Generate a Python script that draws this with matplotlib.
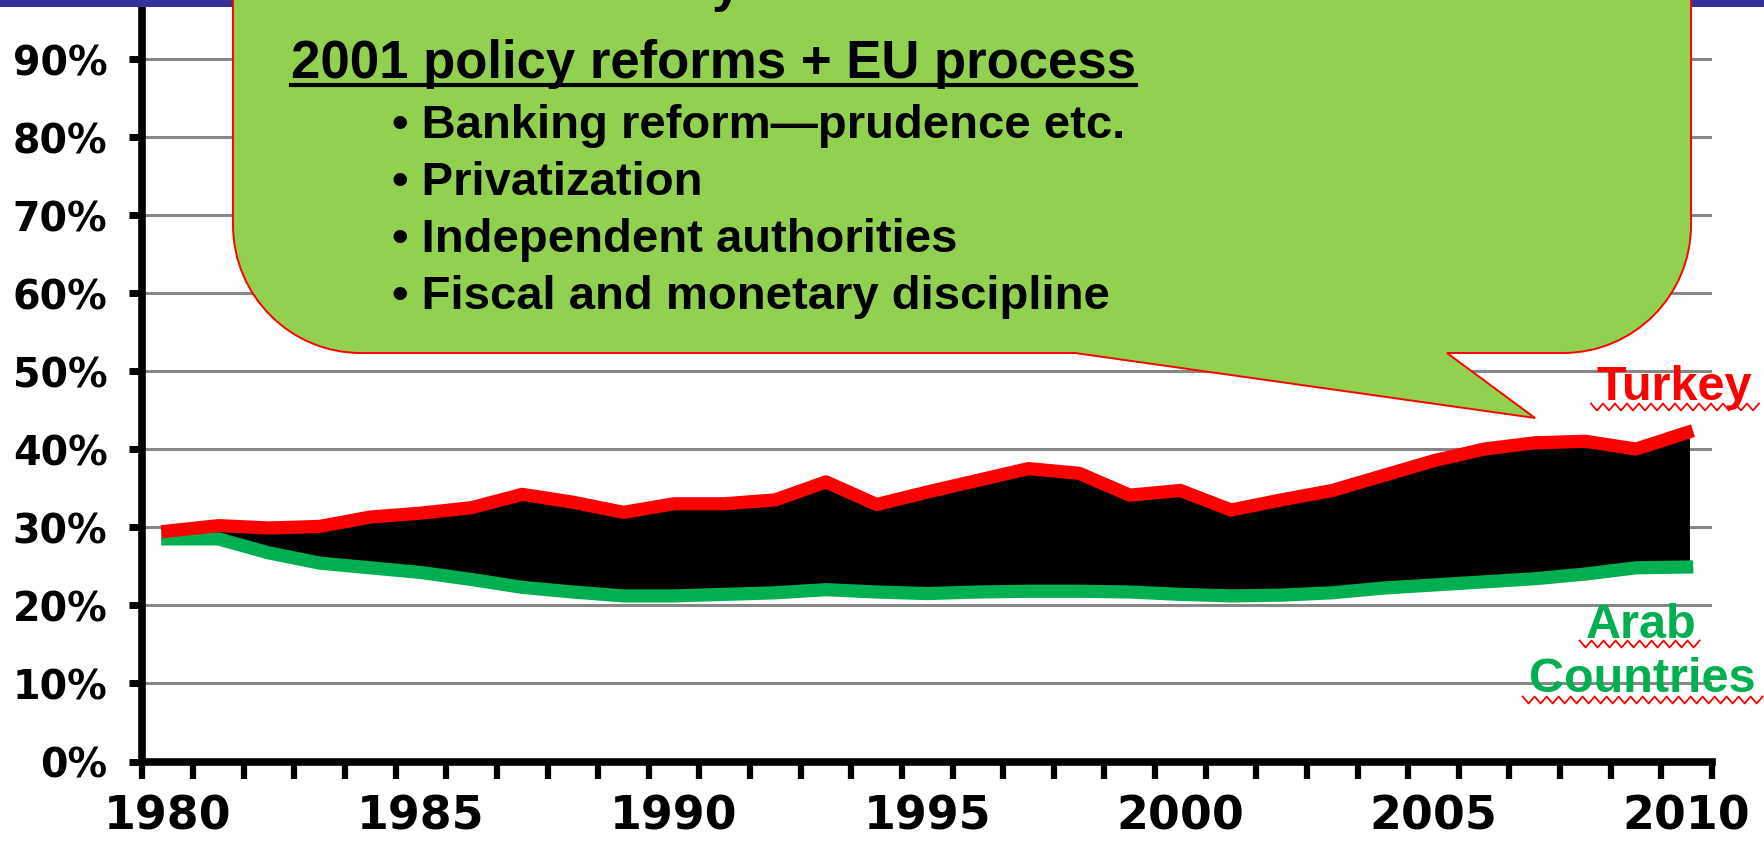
import numpy as np
import matplotlib
matplotlib.use('Agg')
import matplotlib.pyplot as plt
from matplotlib.path import Path
from matplotlib.patches import PathPatch, Rectangle
from matplotlib.lines import Line2D

# ---------------------------------------------------------
# Data (percent)
# ---------------------------------------------------------
years = np.arange(1980, 2011)
turkey = [29.5, 30.2, 29.9, 30.1, 31.3, 31.8, 32.5, 34.2, 33.2, 31.9,
          33.0, 33.0, 33.5, 35.8, 32.9, 34.5, 36.0, 37.5, 36.9, 34.1,
          34.7, 32.2, 33.5, 34.7, 36.6, 38.5, 40.0, 40.8, 41.0, 40.0,
          42.1]
arab = [28.5, 28.5, 26.7, 25.4, 24.8, 24.2, 23.3, 22.3, 21.7, 21.2,
        21.2, 21.4, 21.6, 22.0, 21.7, 21.5, 21.7, 21.8, 21.8, 21.7,
        21.4, 21.2, 21.3, 21.6, 22.2, 22.6, 23.0, 23.4, 24.0, 24.8,
        24.9]
y_ticks = [0, 10, 20, 30, 40, 50, 60, 70, 80, 90]
y_tick_labels = [f'{v}%' for v in y_ticks]
x_label_years = [1980, 1985, 1990, 1995, 2000, 2005, 2010]

callout_title = '2001 policy reforms + EU process'
callout_bullets = ['\u2022 Banking reform\u2014prudence etc.',
                   '\u2022 Privatization',
                   '\u2022 Independent authorities',
                   '\u2022 Fiscal and monetary discipline']

RED = '#FF0000'
GREEN = '#00B050'
CALLOUT_GREEN = '#92D050'
W, H = 1765, 845


def fx(px):
    return px / W


def fy(py):
    # pixel rows counted from the top
    return 1 - py / H


fig = plt.figure(figsize=(W / 100, H / 100), dpi=100)
fig.patch.set_facecolor('white')

# ---------------------------------------------------------
# Main axes
# ---------------------------------------------------------
ax = fig.add_axes([fx(142.5), fy(762.5), fx(1712) - fx(142.5), fy(8) - fy(762.5)])
ax.set_xlim(1979.5, 2010.5)
ax.set_ylim(0, 96.6)

ax.fill_between(years, arab, turkey, facecolor='black', edgecolor='black',
                lw=4, zorder=2)
ax.plot(years, arab, color=GREEN, lw=9.5, zorder=3)
ax.plot(years, turkey, color=RED, lw=9.5, zorder=4)

for side in ['top', 'right']:
    ax.spines[side].set_visible(False)
for side in ['left', 'bottom']:
    ax.spines[side].set_linewidth(5.5)
    ax.spines[side].set_color('black')
    ax.spines[side].set_zorder(5)

ax.set_yticks(y_ticks)
ax.set_yticklabels(y_tick_labels, fontsize=28.5, fontweight='bold',
                   family='DejaVu Sans')
ax.yaxis.grid(True, color='#878787', lw=2.2)
ax.set_axisbelow(True)
ax.tick_params(axis='y', direction='out', length=9.7, width=5, pad=15.5,
               color='black')

# ticks at the category boundaries, labels at the category centres
ax.set_xticks(np.arange(1979.5, 2011, 1.0))
ax.set_xticklabels([])
ax.set_xticks(x_label_years, minor=True)
ax.set_xticklabels([str(y) for y in x_label_years], minor=True,
                   fontsize=33, fontweight='bold', family='DejaVu Sans')
ax.tick_params(axis='x', which='major', direction='out', length=12,
               width=4.5, color='black')
ax.tick_params(axis='x', which='minor', length=0, pad=23)

# ---------------------------------------------------------
# Slide decoration: top bar and callout
# ---------------------------------------------------------
fig.patches.append(Rectangle((0, fy(8)), 1, 8 / H, transform=fig.transFigure,
                             facecolor='#333399', edgecolor='none', zorder=1))

left, right, bottom, top, r = 233, 1691, 354, -60, 128
base_l, base_r, tip = 1075, 1447, (1535, 419)
k = 0.5523 * r
verts = [(base_r, bottom), tip, (base_l, bottom), (left + r, bottom),
         (left + r - k, bottom), (left, bottom - r + k), (left, bottom - r),
         (left, top), (right, top), (right, bottom - r),
         (right, bottom - r + k), (right - r + k, bottom), (right - r, bottom),
         (base_r, bottom), (base_r, bottom)]
codes = [Path.MOVETO, Path.LINETO, Path.LINETO, Path.LINETO,
         Path.CURVE4, Path.CURVE4, Path.CURVE4,
         Path.LINETO, Path.LINETO, Path.LINETO,
         Path.CURVE4, Path.CURVE4, Path.CURVE4,
         Path.LINETO, Path.CLOSEPOLY]
verts = [(fx(x), fy(y)) for x, y in verts]
fig.patches.append(PathPatch(Path(verts, codes), transform=fig.transFigure,
                             facecolor=CALLOUT_GREEN, edgecolor=RED, lw=1.4,
                             zorder=2))

txt_kw = dict(family='Liberation Sans', fontweight='bold', va='baseline',
              zorder=4)
# line above the title, cut off by the slide edge
fig.text(fx(712), fy(1), 'y', fontsize=38, **txt_kw)
title = fig.text(fx(291), fy(78), callout_title, fontsize=38, **txt_kw)
for i, line in enumerate(callout_bullets):
    fig.text(fx(392), fy(138 + 57 * i), line, fontsize=34, **txt_kw)

t_turkey = fig.text(fx(1597), fy(400), 'Turkey', fontsize=35, color=RED,
                    **txt_kw)
arab_kw = dict(txt_kw, ha='center')
t_arab = fig.text(fx(1641), fy(638), 'Arab', fontsize=35, color=GREEN,
                  **arab_kw)
t_countries = fig.text(fx(1642), fy(692), 'Countries', fontsize=35,
                       color=GREEN, **arab_kw)

# underline and spell-check squiggles need the text extents
fig.canvas.draw()
renderer = fig.canvas.get_renderer()

bb = title.get_window_extent(renderer)
fig.lines.append(Line2D([bb.x0 / W, bb.x1 / W], [fy(86), fy(86)],
                        transform=fig.transFigure, color='black', lw=3,
                        zorder=4))


def squiggle(text, y_px):
    tb = text.get_window_extent(renderer)
    xs = np.arange(tb.x0 - 6, tb.x1 + 8, 6.0)
    ys = y_px + np.where(np.arange(len(xs)) % 2 == 0, -3.5, 3.5)
    fig.lines.append(Line2D(xs / W, fy(ys), transform=fig.transFigure,
                            color=RED, lw=1.3, zorder=4))


squiggle(t_turkey, 408)
squiggle(t_arab, 645)
squiggle(t_countries, 701)

fig.savefig('out.png', dpi=100)
